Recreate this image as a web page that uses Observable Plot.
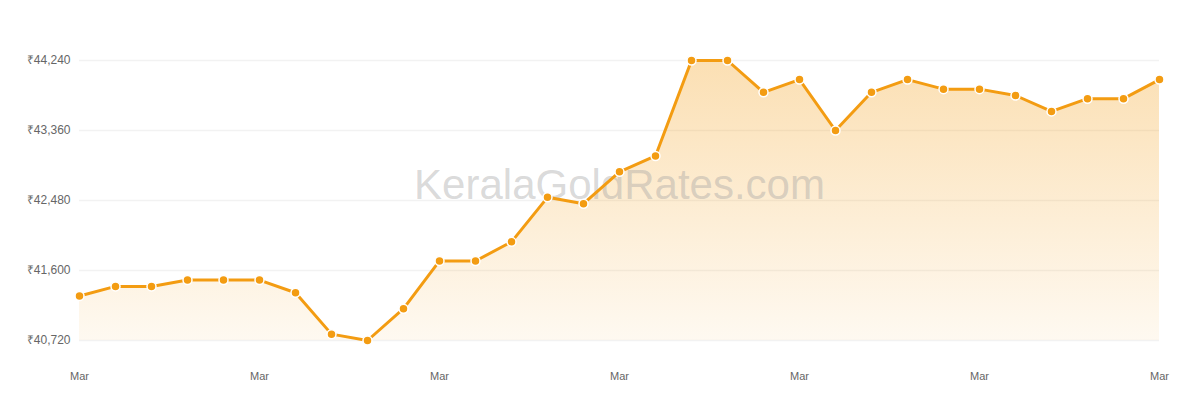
<!DOCTYPE html>
<html>
<head>
<meta charset="utf-8">
<script src="https://cdn.jsdelivr.net/npm/d3@7"></script>
<script src="https://cdn.jsdelivr.net/npm/@observablehq/plot@0.6"></script>
<style>
  body { margin: 0; background: #fff; font-family: "Liberation Sans", Arial, sans-serif; }
</style>
</head>
<body>
<div id="chart"></div>
<script>
const days = d3.range(1, 32);
const prices = [41280, 41400, 41400, 41480, 41480, 41480, 41320, 40800, 40720, 41120,
                41720, 41720, 41960, 42520, 42440, 42840, 43040, 44240, 44240, 43840,
                44000, 43360, 43840, 44000, 43880, 43880, 43800, 43600, 43760, 43760, 44000];
const yTicks = [40720, 41600, 42480, 43360, 44240];
const xTickDays = [1, 6, 11, 16, 21, 26, 31];
const watermark = "KeralaGoldRates.com";

const data = days.map((d, i) => ({date: new Date(Date.UTC(2023, 2, d)), price: prices[i]}));
const xTicks = xTickDays.map(d => new Date(Date.UTC(2023, 2, d)));
const fmt = d3.format(",");

const plot = Plot.plot({
  width: 1200,
  height: 400,
  marginLeft: 79,
  marginRight: 41,
  marginTop: 60,
  marginBottom: 60,
  style: {fontFamily: "'Liberation Sans', Arial, sans-serif", fontSize: "11px", color: "#666", background: "#fff"},
  x: {type: "utc", label: null, ticks: xTicks, tickFormat: d3.utcFormat("%b"), tickSize: 0, tickPadding: 32},
  y: {domain: [40720, 44240], label: null, ticks: yTicks, tickFormat: d => "₹" + fmt(d), tickSize: 0, tickPadding: 9},
  marks: [
    Plot.gridY(yTicks, {stroke: "#f2f2f2", strokeOpacity: 1, strokeWidth: 1.5}),
    Plot.areaY(data, {x: "date", y1: 40720, y2: "price", fill: "url(#goldGrad)"}),
    Plot.text([watermark], {frameAnchor: "middle", dy: -15, fontSize: 42, fill: "#a0a0a0", fillOpacity: 0.4, fontFamily: "'Liberation Sans', Arial, sans-serif"}),
    Plot.line(data, {x: "date", y: "price", stroke: "#f39c12", strokeWidth: 3}),
    Plot.dot(data, {x: "date", y: "price", r: 4.5, fill: "#f39c12", stroke: "#fff", strokeWidth: 1.5}),
    Plot.axisY({ticks: yTicks, tickFormat: d => "₹" + fmt(d), tickSize: 0, tickPadding: 9, fill: "#666", fontSize: 12}),
    Plot.axisX({ticks: xTicks, tickFormat: d3.utcFormat("%b"), tickSize: 0, tickPadding: 32, fill: "#666", fontSize: 11})
  ]
});

const svg = d3.select(plot);
const defs = svg.insert("defs", ":first-child");
const grad = defs.append("linearGradient").attr("id", "goldGrad").attr("x1", 0).attr("y1", 0).attr("x2", 0).attr("y2", 1);
grad.append("stop").attr("offset", "0%").attr("stop-color", "#f39c12").attr("stop-opacity", 0.32);
grad.append("stop").attr("offset", "100%").attr("stop-color", "#f39c12").attr("stop-opacity", 0.06);

document.getElementById("chart").appendChild(plot);
</script>
</body>
</html>
